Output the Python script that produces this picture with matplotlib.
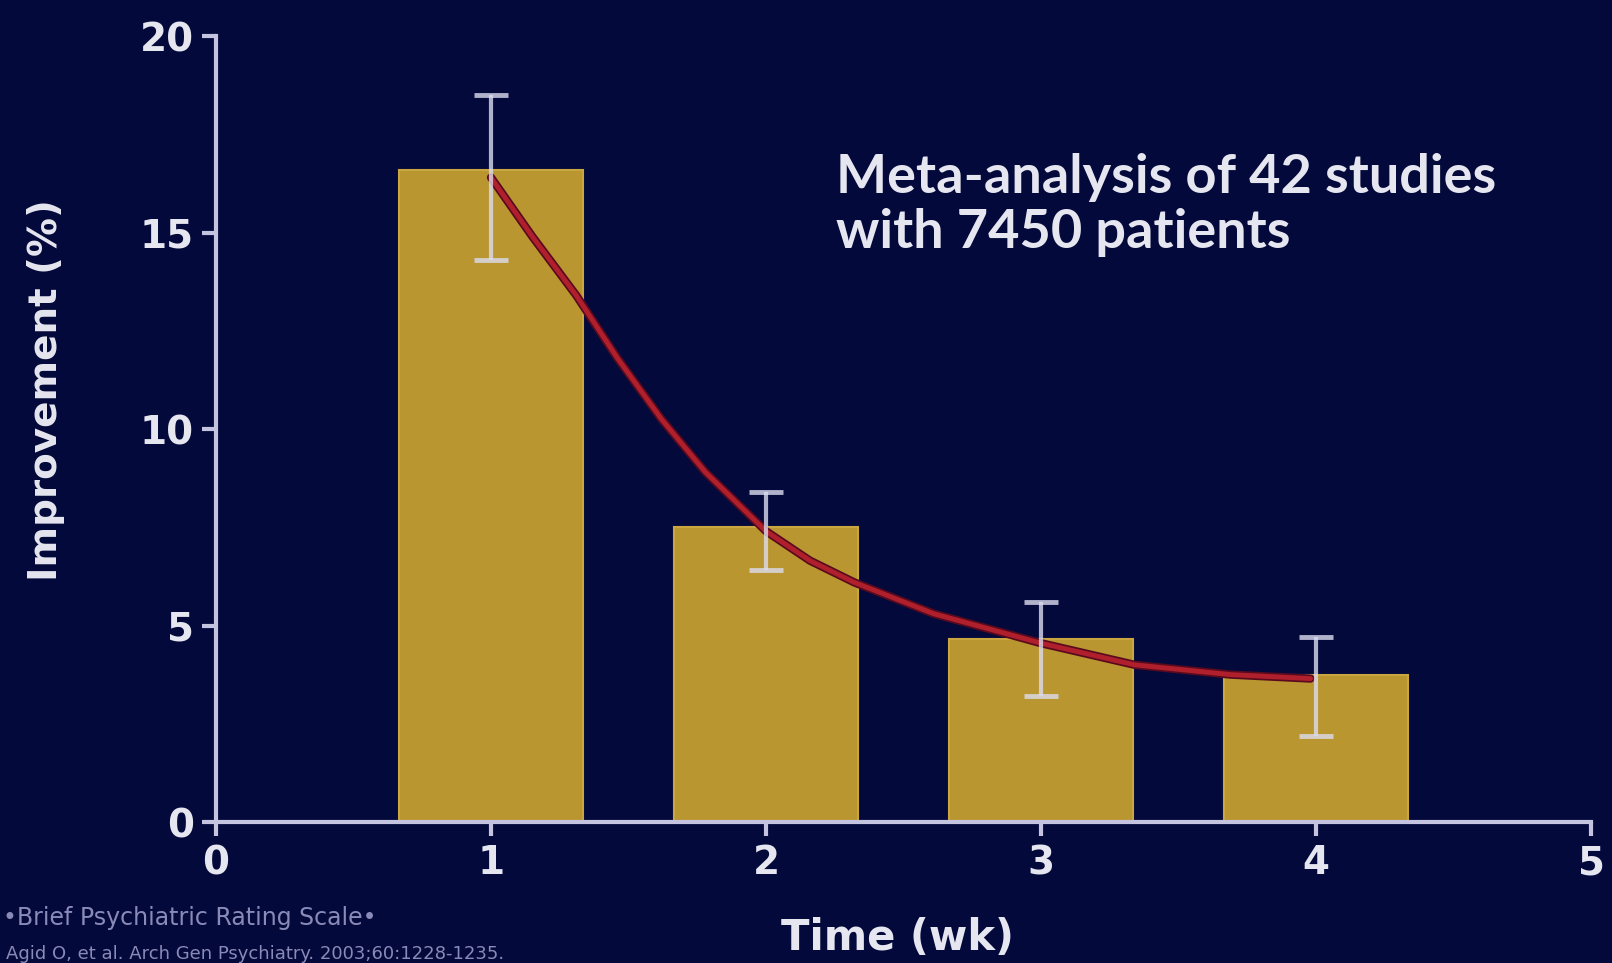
import numpy as np
import matplotlib
matplotlib.use("Agg")
import matplotlib.pyplot as plt

# DATA
weeks = [1, 2, 3, 4]
improvement = [16.6, 7.5, 4.65, 3.75]
err_low = [14.3, 6.4, 3.2, 2.2]
err_high = [18.5, 8.4, 5.6, 4.7]

# fitted decay curve
curve_x = [1.0, 1.15, 1.31, 1.46, 1.62, 1.78, 2.0, 2.16, 2.32, 2.61, 3.0, 3.34, 3.69, 3.98]
curve_y = [16.4, 14.9, 13.4, 11.8, 10.25, 8.9, 7.4, 6.65, 6.1, 5.3, 4.55, 4.0, 3.75, 3.65]

x_ticks = [0, 1, 2, 3, 4, 5]
y_ticks = [0, 5, 10, 15, 20]

bg = "#03093a"
gold = "#b9962f"
axis_col = "#c4c4e0"
text_col = "#e6e6f0"

fig = plt.figure(figsize=(16.12, 9.63), dpi=100, facecolor=bg)
ax = fig.add_axes([0.134, 0.1464, 0.853, 0.8162], facecolor=bg)

# bars
ax.bar(weeks, improvement, width=0.67, color=gold, edgecolor="#c9a640",
       linewidth=1.5, zorder=2)

# red fitted curve
ax.plot(curve_x, curve_y, color="#5a0a1e", linewidth=6, zorder=3,
        solid_capstyle="round", solid_joinstyle="round")
ax.plot(curve_x, curve_y, color="#b0202c", linewidth=3.5, zorder=4,
        solid_capstyle="round", solid_joinstyle="round")

# error bars (asymmetric)
means = np.array(improvement)
yerr = [means - np.array(err_low), np.array(err_high) - means]
ax.errorbar(weeks, improvement, yerr=yerr, fmt="none", ecolor="#dcdcf0",
            elinewidth=3, capsize=12, capthick=3.5, alpha=0.8, zorder=5)

# axes styling
ax.set_xlim(0, 5)
ax.set_ylim(0, 20)
ax.set_xticks(x_ticks)
ax.set_yticks(y_ticks)
for s in ["top", "right"]:
    ax.spines[s].set_visible(False)
for s in ["left", "bottom"]:
    ax.spines[s].set_color(axis_col)
    ax.spines[s].set_linewidth(3)
ax.tick_params(axis="both", colors=axis_col, width=3, length=10,
               labelcolor=text_col, labelsize=28)
ax.tick_params(axis="x", pad=6)
ax.tick_params(axis="y", pad=6)
for lab in ax.get_xticklabels() + ax.get_yticklabels():
    lab.set_fontweight("bold")

ax.set_ylabel("Improvement (%)", fontsize=28, fontweight="bold",
              color=text_col)
ax.yaxis.set_label_coords(-0.11, 0.55)
fig.text(0.557, 0.004, "Time (wk)", fontsize=30, fontweight="bold",
         color=text_col, ha="center", va="bottom")

# annotation
ax.text(0.451, 0.785, "Meta-analysis of 42 studies\nwith 7450 patients",
        transform=ax.transAxes, fontsize=39, fontweight="bold",
        family=["Lato", "DejaVu Sans"], color=text_col, ha="left",
        va="center", linespacing=1.15)

# footnotes
fig.text(0.002, 0.047, "\u2022Brief Psychiatric Rating Scale\u2022",
         fontsize=17, color="#8a8ab8", ha="left", va="center")
fig.text(0.004, 0.009, "Agid O, et al. Arch Gen Psychiatry. 2003;60:1228-1235.",
         fontsize=13, color="#8a8ab8", ha="left", va="center")

fig.savefig("out.png", dpi=100, facecolor=bg)
